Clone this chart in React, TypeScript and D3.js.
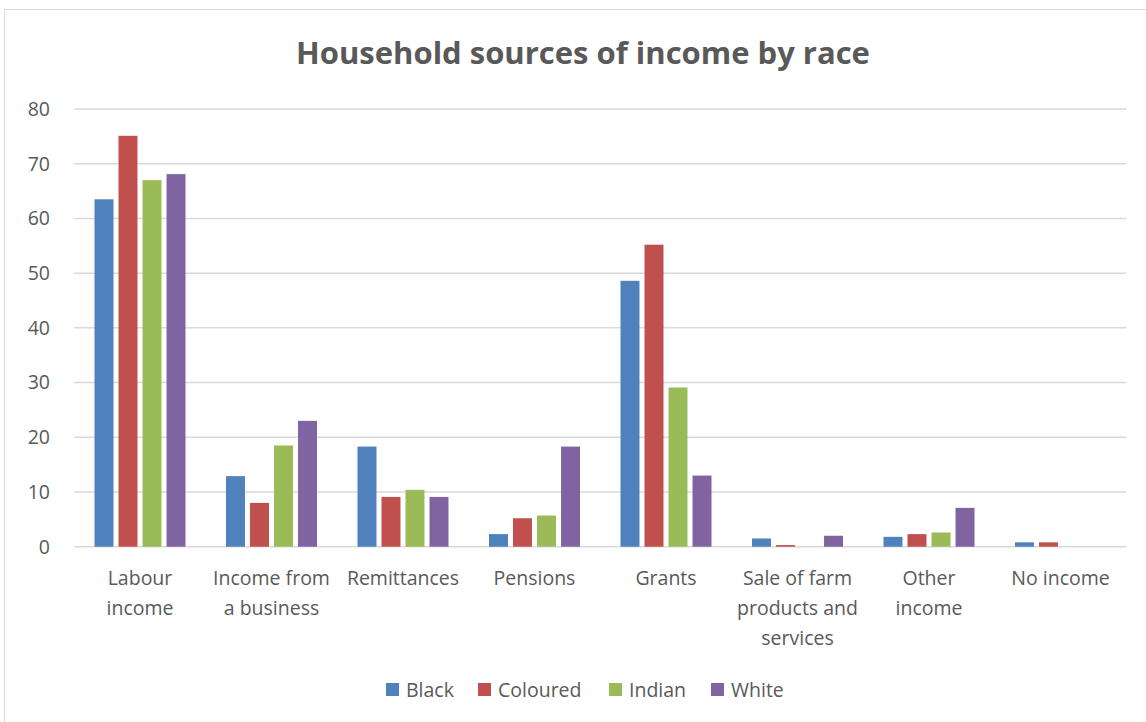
import React from "react";
import * as d3 from "d3";

const categories = ["Labour income", "Income from a business", "Remittances", "Pensions", "Grants", "Sale of farm products and services", "Other income", "No income"];
const categoryLines = [["Labour", "income"], ["Income from", "a business"], ["Remittances"], ["Pensions"], ["Grants"], ["Sale of farm", "products and", "services"], ["Other", "income"], ["No income"]];
const seriesNames = ["Black", "Coloured", "Indian", "White"];
const black = [63.5, 12.9, 18.3, 2.3, 48.6, 1.5, 1.8, 0.8];
const coloured = [75.1, 8.0, 9.1, 5.2, 55.2, 0.3, 2.3, 0.8];
const indian = [67.0, 18.5, 10.4, 5.7, 29.1, 0, 2.6, 0];
const white = [68.1, 23.0, 9.1, 18.3, 13.0, 2.0, 7.1, 0];
const yTicks = [0, 10, 20, 30, 40, 50, 60, 70, 80];
const colors = ["#4f81bd", "#c0504d", "#9bbb59", "#8064a2"];

const W = 1146, H = 722;
const left = 74.25, right = 1126.25, top = 109, bottom = 546.7;
const FONT = "'Open Sans', 'Liberation Sans', sans-serif";
const TXT = "#595959";

export default function App() {
  const seriesValues = [black, coloured, indian, white];
  const x0 = d3.scaleBand<string>().domain(categories).range([left, right]).paddingInner(0.308).paddingOuter(0.154);
  const x1 = d3.scaleBand<string>().domain(seriesNames).range([0, x0.bandwidth()]).paddingInner(0.21).paddingOuter(0);
  const y = d3.scaleLinear().domain([0, 80]).range([bottom, top]);
  const fullBand = d3.scaleBand<string>().domain(categories).range([left, right]);

  const legendX = [386, 478, 609, 711];

  return (
    <svg width={W} height={H} style={{ position: "absolute", left: 0, top: 0, background: "#fff" }} fontFamily={FONT}>
      <rect x={4.5} y={9.5} width={W + 10} height={H} fill="#fff" stroke="#d9d9d9" strokeWidth={1} />
      <text x={583} y={64} textAnchor="middle" fontSize={31} fontWeight="bold" fill={TXT}>Household sources of income by race</text>
      {yTicks.map((t) => (
        <g key={t}>
          <line x1={left} x2={right} y1={y(t)} y2={y(t)} stroke="#d9d9d9" strokeWidth={1.5} />
          <text x={50} y={y(t)} dy="0.35em" textAnchor="end" fontSize={19.5} fill={TXT}>{t}</text>
        </g>
      ))}
      {categories.map((c, ci) => (
        <g key={c}>
          {seriesNames.map((s, si) => {
            const v = seriesValues[si][ci];
            const bx = (x0(c) as number) + (x1(s) as number);
            return (
              <rect key={s} x={bx} y={y(v)} width={x1.bandwidth()} height={Math.max(0, y(0) - y(v))} fill={colors[si]} />
            );
          })}
          <text textAnchor="middle" fontSize={19.5} fill={TXT}>
            {categoryLines[ci].map((ln, li) => (
              <tspan key={li} x={(fullBand(c) as number) + fullBand.bandwidth() / 2} y={585 + li * 30}>{ln}</tspan>
            ))}
          </text>
        </g>
      ))}
      {seriesNames.map((s, si) => (
        <g key={s}>
          <rect x={legendX[si]} y={683} width={13} height={13} fill={colors[si]} />
          <text x={legendX[si] + 20} y={697} fontSize={19.5} fill={TXT}>{s}</text>
        </g>
      ))}
    </svg>
  );
}
